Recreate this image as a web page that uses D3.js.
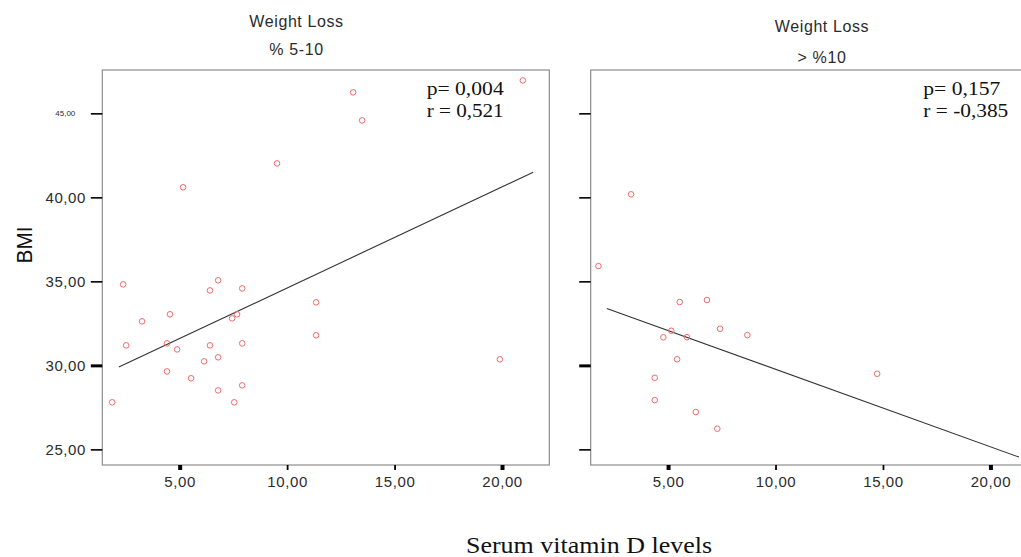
<!DOCTYPE html>
<html>
<head>
<meta charset="utf-8">
<script src="https://cdn.jsdelivr.net/npm/d3@7"></script>
<style>
  body { margin: 0; background: #fff; }
  svg { display: block; }
</style>
</head>
<body>
<svg id="chart" width="1021" height="557"></svg>
<script>
// values
const leftVitD = [20.97, 13.07, 13.49, 9.53, 5.16, 2.37, 6.79, 7.91, 6.41, 11.35,
  3.25, 4.55, 7.67, 7.44, 11.35, 2.51, 4.41, 6.41, 7.91, 4.88,
  6.79, 6.14, 19.90, 4.41, 5.53, 7.91, 6.79, 1.86, 7.54]
const leftBMI = [46.96, 46.25, 44.58, 42.02, 40.60, 34.82, 35.06, 34.58, 34.46, 33.75,
  32.62, 33.04, 33.04, 32.80, 31.79, 31.19, 31.31, 31.19, 31.31, 30.95,
  30.48, 30.24, 30.36, 29.64, 29.23, 28.81, 28.51, 27.80, 27.80]

const rightVitD = [1.76, 3.28, 5.54, 6.81, 5.15, 4.78, 5.88, 7.42, 8.69, 5.42,
  4.38, 4.38, 6.29, 7.29, 14.73]
const rightBMI = [35.91, 40.18, 33.77, 33.89, 32.06, 31.67, 31.68, 32.18, 31.80, 30.36,
  29.26, 27.93, 27.22, 26.23, 29.50]

const leftFitX = [2.17, 21.45]
const leftFitY = [29.90, 41.49]
const rightFitX = [2.15, 21.33]
const rightFitY = [33.39, 24.54]

const xTicks = [5, 10, 15, 20]
const yTicks = [25, 30, 35, 40, 45]

const titles = [["Weight Loss", "% 5-10"], ["Weight Loss", "> %10"]]
const stats = [["p= 0,004", "r = 0,521"], ["p= 0,157", "r = -0,385"]]

const svg = d3.select("#chart")
const sans = "Arial, 'Liberation Sans', sans-serif"
const serif = "'Times New Roman', 'Liberation Serif', serif"

const plotTop = 70, plotBottom = 465, panelW = 447
const comma = d => d3.format(".2f")(d).replace(".", ",")

const panels = [
  { x0: 102.3, vit: leftVitD, bmi: leftBMI, fx: leftFitX, fy: leftFitY, labels: true,
    titleX: 296.5, titleY: [27, 55], statX: 426.7, statW: [77, 77] },
  { x0: 590.7, vit: rightVitD, bmi: rightBMI, fx: rightFitX, fy: rightFitY, labels: false,
    titleX: 822, titleY: [32, 62.5], statX: 923.3, statW: [77, 85] }
]

const y = d3.scaleLinear().domain([24.07, 47.58]).range([plotBottom, plotTop])

panels.forEach((p, i) => {
  const x = d3.scaleLinear().domain([1.40, 22.2]).range([p.x0, p.x0 + panelW])
  const g = svg.append("g")

  // titles
  g.selectAll(".title")
    .data(titles[i])
    .join("text")
    .attr("class", "title")
    .attr("x", p.titleX)
    .attr("y", (d, k) => p.titleY[k])
    .attr("text-anchor", "middle")
    .style("font-family", sans)
    .style("font-size", "16px")
    .style("letter-spacing", "0.6px")
    .style("fill", "#2b2b2b")
    .text(d => d)

  // frame
  g.append("rect")
    .attr("x", p.x0)
    .attr("y", plotTop)
    .attr("width", panelW)
    .attr("height", plotBottom - plotTop)
    .attr("fill", "none")
    .attr("stroke", "#8c8c8c")
    .attr("stroke-width", 1.2)

  // y axis
  const yAxis = g.append("g")
    .attr("transform", `translate(${p.x0},0)`)
    .call(d3.axisLeft(y).tickValues(yTicks).tickSize(11.5).tickFormat(p.labels ? comma : ""))
  yAxis.select(".domain").remove()
  yAxis.selectAll(".tick line")
    .attr("stroke", "#000")
    .attr("stroke-width", d => d === 30 ? 3 : 1.6)
  yAxis.selectAll(".tick text")
    .attr("x", d => d === 45 ? -27 : -16.3)
    .style("font-family", sans)
    .style("font-size", d => d === 45 ? "8px" : "15px")
    .style("letter-spacing", d => d === 45 ? "0px" : "0.6px")
    .style("fill", "#2b2b2b")

  // x axis
  const xAxis = g.append("g")
    .attr("transform", `translate(0,${plotBottom})`)
    .call(d3.axisBottom(x).tickValues(xTicks).tickSize(5).tickFormat(comma))
  xAxis.select(".domain").remove()
  xAxis.selectAll(".tick line")
    .attr("stroke", "#000")
    .attr("stroke-width", d => (d === 5 || d === 20) ? 4 : 1.8)
  xAxis.selectAll(".tick text")
    .attr("y", 22)
    .attr("dy", 0)
    .style("font-family", sans)
    .style("font-size", "15px")
    .style("letter-spacing", "0.6px")
    .style("fill", "#2b2b2b")

  // fit line
  const fit = p.fx.map((v, k) => [v, p.fy[k]])
  g.append("path")
    .datum(fit)
    .attr("fill", "none")
    .attr("stroke", "#333")
    .attr("stroke-width", 1.1)
    .attr("d", d3.line().x(d => x(d[0])).y(d => y(d[1])))

  // points
  g.selectAll("circle")
    .data(p.vit.map((v, k) => ({ v, b: p.bmi[k] })))
    .join("circle")
    .attr("cx", d => x(d.v))
    .attr("cy", d => y(d.b))
    .attr("r", 2.8)
    .attr("fill", "none")
    .attr("stroke", "#f06a6a")
    .attr("stroke-width", 1)

  // p and r
  g.selectAll(".stat")
    .data(stats[i])
    .join("text")
    .attr("class", "stat")
    .attr("x", p.statX)
    .attr("y", (d, k) => 95 + k * 22.3)
    .attr("textLength", (d, k) => p.statW[k])
    .attr("lengthAdjust", "spacingAndGlyphs")
    .style("font-family", serif)
    .style("font-size", "18px")
    .style("fill", "#111")
    .text(d => d)
})

svg.append("text")
  .attr("transform", "translate(31.5,245) rotate(-90)")
  .attr("text-anchor", "middle")
  .attr("textLength", 37)
  .attr("lengthAdjust", "spacingAndGlyphs")
  .style("font-family", sans)
  .style("font-size", "22px")
  .style("fill", "#111")
  .text("BMI")

svg.append("text")
  .attr("x", 466)
  .attr("y", 553)
  .attr("textLength", 246)
  .attr("lengthAdjust", "spacingAndGlyphs")
  .style("font-family", serif)
  .style("font-size", "23px")
  .style("fill", "#111")
  .text("Serum vitamin D levels")
</script>
</body>
</html>
